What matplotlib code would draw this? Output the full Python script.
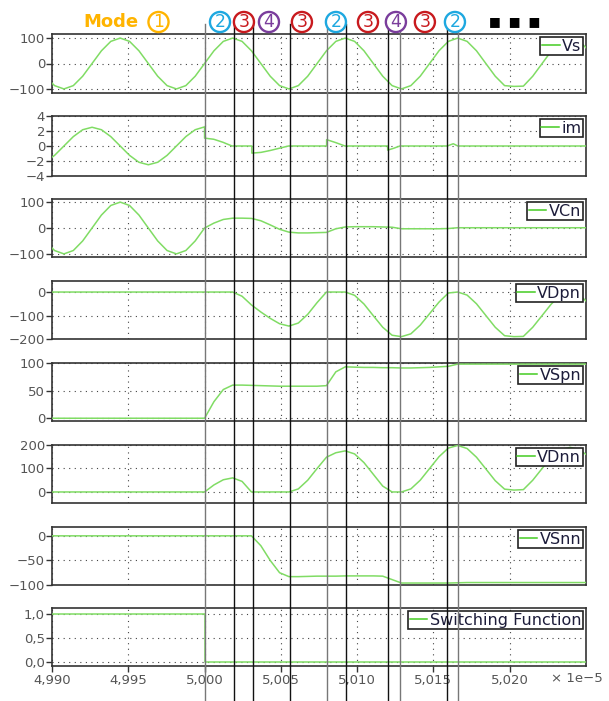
import numpy as np
import matplotlib.pyplot as plt
from matplotlib import transforms
from matplotlib.lines import Line2D

plt.rcParams['font.family'] = ['DejaVu Sans']

# x in units of 1e-5 s, sampled 12 times per 13.56 MHz period
T_STEP = 0.00061455
t = 5.0 + T_STEP * np.arange(-17, 42)

vs = [-50, -87, -100, -87, -50, 0, 50, 87, 100, 87, 50, 0, -50, -87, -100, -87, -50,
      0, 50, 87, 100, 87, 50, 0, -50, -87, -100, -87, -50, 0, 50, 87, 100, 87, 50, 0,
      -50, -87, -100, -87, -50, 0, 50, 87, 100, 87, 50, 0, -50, -87, -90, -89, -50, 0, 50, 87,
      100, 87, 50]

im_pre = [-2.17, -1.25, 0, 1.25, 2.17, 2.5, 2.17, 1.25, 0, -1.25, -2.17, -2.5, -2.17,
          -1.25, 0, 1.25, 2.17, 2.55]
im_t_post = [5.0, 5.0006, 5.0012, 5.0018, 5.0031, 5.0031, 5.0037, 5.0043, 5.0049, 5.0055,
             5.0080, 5.0080, 5.0086, 5.0092, 5.0120, 5.0120, 5.0124, 5.0128, 5.0159,
             5.0163, 5.0166, 5.025]
im_post = [1.05, 0.9, 0.5, 0.0, 0.0, -0.95, -0.85, -0.6, -0.3, 0.0,
           0.0, 0.85, 0.45, 0.0, 0.0, -0.55, -0.3, 0.0, 0.0,
           0.3, 0.0, 0.0]

vcn = [-50, -87, -100, -87, -50, 0, 50, 87, 100, 87, 50, 0, -50, -87, -100, -87, -50,
       0, 19, 33, 38, 38, 37, 28, 12, -5, -16, -19, -19, -18, -17, -3, 4, 5, 5, 5, 4, 3,
       -3, -3, -3, -3, -3, -2, 1, 1, 1, 1, 1, 1, 1, 1, 1, 1, 1, 1, 1, 1, 1]

vdpn = [0] * 21 + [-18, -55, -85, -112, -135, -145, -132, -95, -45, 0, 0, 0, -14, -51,
                   -101, -150, -184, -190, -178, -141, -92, -43, -4, 0, -13, -50, -100,
                   -150, -186, -190, -189, -150, -100, -50, -13, 0, -13, -50]

vspn = [0] * 18 + [30, 52, 60, 60, 59.5, 59, 58.5, 58, 58, 58, 58, 58, 59, 84, 93, 92.5,
                   92, 92, 91.5, 91.5, 91, 91, 91.5, 92, 93, 94, 98, 98, 98, 98, 98, 98,
                   98, 98, 98, 98, 98, 98, 98, 98, 98]

vdnn = [0] * 18 + [30, 52, 60, 45, 0, 0, 0, 0, 0, 13, 50, 100, 148, 167, 175, 162, 125,
                   75, 25, 0, 0, 13, 50, 100, 150, 187, 198, 185, 148, 98, 48, 12, 8, 10,
                   50, 100, 150, 180, 190, 180, 150]

vsnn = [0] * 23 + [-20, -50, -75, -83, -83, -82.5, -82, -82, -82, -81.5, -81.5, -81.5,
                   -81.5, -82, -89, -96, -96, -96, -96, -96, -96, -95.5, -95, -95, -95,
                   -95, -95, -95, -95, -95, -95, -95, -95, -95, -95, -95]

sf_t = [4.990, 5.000, 5.000, 5.025]
sf = [1, 1, 0, 0]

names = ['Vs', 'im', 'VCn', 'VDpn', 'VSpn', 'VDnn', 'VSnn', 'Switching Function']
ylims = [(-116, 116), (-4, 4), (-112, 112), (-200, 47), (-5, 100), (-47, 200),
         (-100, 18), (-0.085, 1.13)]
yticks = [[-100, 0, 100], [-4, -2, 0, 2, 4], [-100, 0, 100], [-200, -100, 0],
          [0, 50, 100], [0, 100, 200], [-100, -50, 0], [0, 0.5, 1.0]]
xticks = [4.990, 4.995, 5.000, 5.005, 5.010, 5.015, 5.020]

# switching instants and the mode numbers between them
edge_t = [5.0000, 5.0019, 5.0032, 5.0056, 5.0080, 5.0093, 5.0120, 5.0128, 5.0159, 5.0166]
edge_col = ['#777', '#111', '#111', '#111', '#777', '#111', '#111', '#777', '#111', '#777']
mode_x = [4.99698, 5.00101, 5.00258, 5.00422, 5.00638, 5.00861, 5.01071, 5.01254, 5.01444, 5.01641]
mode_n = ['1', '2', '3', '4', '3', '2', '3', '4', '3', '2']
mode_col = {'1': '#ffb400', '2': '#1ea8e0', '3': '#c81a1e', '4': '#7a3d9c'}

W_PX, H_PX = 609, 701
panel_px = [(34, 93), (116, 176), (199, 257), (281, 339), (363, 421), (445, 503),
            (527, 585), (608, 666)]
L, R = 52 / W_PX, 586 / W_PX
LINE = '#80dc64'

fig = plt.figure(figsize=(W_PX / 100, H_PX / 100), dpi=100)
fig.patch.set_facecolor('white')

series = [(t, vs), (np.concatenate([t[:18], im_t_post]), im_pre + im_post), (t, vcn),
          (t, vdpn), (t, vspn), (t, vdnn), (t, vsnn), (sf_t, sf)]

axes = []
for i, name in enumerate(names):
    top, bot = panel_px[i]
    ax = fig.add_axes([L, 1 - bot / H_PX, R - L, (bot - top) / H_PX])
    xs, ys = series[i]
    ax.plot(xs, ys, color=LINE, lw=1.1, label=name, zorder=3)
    ax.set_xlim(4.990, 5.025)
    ax.set_ylim(*ylims[i])
    ax.set_yticks(yticks[i])
    if name == 'Switching Function':
        ax.set_yticklabels([f'{v:.1f}'.replace('.', ',') for v in yticks[i]])
    else:
        ax.set_yticklabels([f'{v:g}'.replace('-', '\u2212') for v in yticks[i]])
    ax.set_xticks(xticks)
    ax.grid(True, linestyle=(0, (1, 4)), color='#444', lw=0.8)
    for s in ax.spines.values():
        s.set_color('#333')
        s.set_linewidth(1.2)
    ax.tick_params(axis='y', length=4, width=1, colors='#333', labelcolor='#555',
                   labelsize=9.5, pad=1)
    if i < len(names) - 1:
        ax.tick_params(axis='x', length=0, labelbottom=False)
    else:
        ax.set_xticklabels([f'{v:.3f}'.replace('.', ',') for v in xticks])
        ax.tick_params(axis='x', length=4, width=1, colors='#333', labelcolor='#555',
                       labelsize=9.5, pad=2)
        ax.text(0.983, -0.224, '\u00d7 1e\u22125', transform=ax.transAxes, ha='center',
                va='center', fontsize=9.5, color='#555')
    leg = ax.legend(loc='upper right', fontsize=11.5, frameon=True, fancybox=False,
                    framealpha=1, edgecolor='#222', borderpad=0.1, handlelength=1.1,
                    handletextpad=0.15, borderaxespad=0.2, labelcolor='#1c1c3a')
    leg.get_frame().set_linewidth(1.2)
    leg.get_lines()[0].set_color('#44cc22')
    axes.append(ax)

trans = transforms.blended_transform_factory(axes[-1].transData, fig.transFigure)
for x, c in zip(edge_t, edge_col):
    fig.add_artist(Line2D([x, x], [0, 1 - 24 / H_PX], transform=trans, color=c, lw=1.0))

label_y = 1 - 22 / H_PX
fig.text(4.99387, label_y, 'Mode', transform=trans, ha='center', va='center',
         fontsize=13, fontweight='bold', color='#ffb400')
for x, n in zip(mode_x, mode_n):
    c = mode_col[n]
    fig.text(x, label_y, n, transform=trans, ha='center', va='center', fontsize=12.5,
             color=c, bbox=dict(boxstyle='circle,pad=0.06', fc='white', ec=c, lw=1.7),
             zorder=5)
fig.text(5.02034, label_y, '\u25a0  \u25a0  \u25a0', transform=trans, ha='center',
         va='center', fontsize=9, color='black')

fig.savefig('out.png', dpi=100)
